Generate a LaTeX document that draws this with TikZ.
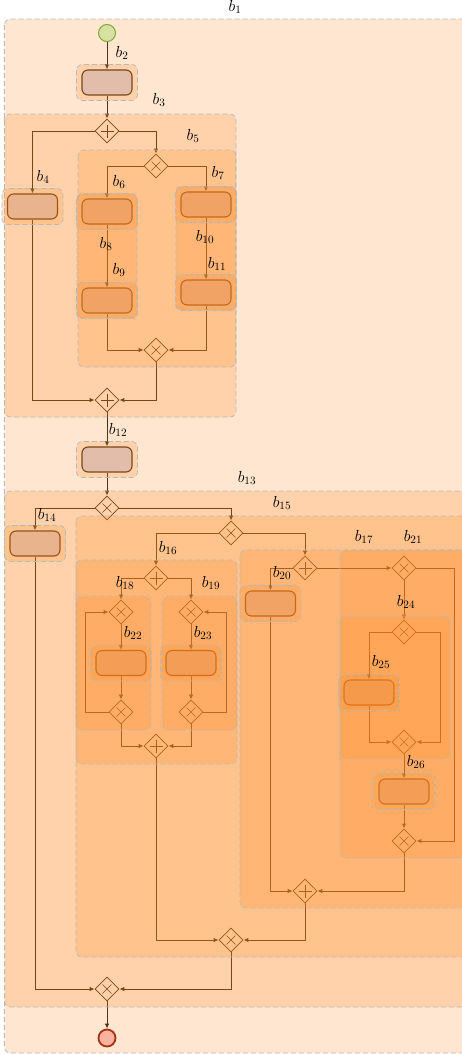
\RequirePackage{fix-cm}
\documentclass[tikz,border=0pt]{standalone}
\usepackage{tikz}
\usetikzlibrary{shapes.geometric, arrows.meta}
\definecolor{blockorange}{RGB}{255,140,40}
\definecolor{taskblue}{RGB}{208,224,255}
\definecolor{flowbrown}{RGB}{38,24,14}
\definecolor{startfill}{RGB}{205,250,195}
\definecolor{startline}{RGB}{95,175,60}
\definecolor{endfill}{RGB}{245,190,190}
\definecolor{endline}{RGB}{140,25,20}

\begin{document}
\begin{tikzpicture}[x=1pt, y=-1pt, font=\fontsize{16}{19}\selectfont,
  task/.style={draw=flowbrown, line width=1.1pt, rounded corners=6pt, fill=taskblue,
    minimum width=50pt, minimum height=25pt, inner sep=0pt},
  gate/.style={diamond, draw=flowbrown, line width=0.8pt, minimum width=24pt,
    minimum height=24pt, inner sep=0pt},
  andgw/.style={gate, path picture={
    \draw[flowbrown, line width=1pt]
      ([yshift=-6.5pt]path picture bounding box.center) -- ([yshift=6.5pt]path picture bounding box.center)
      ([xshift=-6.5pt]path picture bounding box.center) -- ([xshift=6.5pt]path picture bounding box.center);}},
  xorgw/.style={gate, path picture={
    \draw[flowbrown, line width=0.5pt]
      ([shift={(-4.5pt,-4.5pt)}]path picture bounding box.center) -- ([shift={(4.5pt,4.5pt)}]path picture bounding box.center)
      ([shift={(-4.5pt,4.5pt)}]path picture bounding box.center) -- ([shift={(4.5pt,-4.5pt)}]path picture bounding box.center);}},
  start/.style={circle, draw=startline, line width=1pt, fill=startfill, minimum size=17pt, inner sep=0pt},
  finish/.style={circle, draw=endline, line width=1.8pt, fill=endfill, minimum size=17pt, inner sep=0pt},
  flow/.style={draw=flowbrown, line width=0.95pt, -{Latex[length=5pt,width=4.5pt]}},
  block/.style={fill=blockorange, fill opacity=0.22, draw=black!28, line width=0.7pt,
    dash pattern=on 5pt off 3pt, rounded corners=6pt},
  blabel/.style={inner sep=0pt, text=black}]
  \useasboundingbox (0,0) rectangle (462,1055);
  \clip (0,0) rectangle (462,1055);

  % events, tasks and gateways
  \node[start] (start) at (107,33) {};
  \node[task] (t2) at (107,82.5) {};
  \node[andgw] (g3s) at (107,131) {};
  \node[task] (t4) at (32.5,206.5) {};
  \node[xorgw] (g5s) at (156,166) {};
  \node[task] (t8) at (107,211.5) {};
  \node[task] (t9) at (107,300.5) {};
  \node[task] (t10) at (206,204.5) {};
  \node[task] (t11) at (206,292.5) {};
  \node[xorgw] (g5j) at (156,350) {};
  \node[andgw] (g3j) at (107,400) {};
  \node[task] (t12) at (107,459.5) {};
  \node[xorgw] (g13s) at (107,508) {};
  \node[task] (t14) at (35,543.5) {};
  \node[xorgw] (g15s) at (231,533) {};
  \node[andgw] (g16s) at (156,578) {};
  \node[xorgw] (g18s) at (121,612) {};
  \node[task] (t22) at (121,663) {};
  \node[xorgw] (g18j) at (121,712) {};
  \node[xorgw] (g19s) at (191,612) {};
  \node[task] (t23) at (191,663) {};
  \node[xorgw] (g19j) at (191,712) {};
  \node[andgw] (g16j) at (156,746) {};
  \node[andgw] (g17s) at (305,568) {};
  \node[task] (t20) at (270.5,603.5) {};
  \node[xorgw] (g21s) at (404,568) {};
  \node[xorgw] (g24s) at (404,632) {};
  \node[task] (t25) at (369,692.5) {};
  \node[xorgw] (g24j) at (404,742) {};
  \node[task] (t26) at (404,791.5) {};
  \node[xorgw] (g21j) at (404,841) {};
  \node[andgw] (g17j) at (305,891) {};
  \node[xorgw] (g15j) at (231,940) {};
  \node[xorgw] (g13j) at (107,989) {};
  \node[finish] (end) at (107,1038) {};

  % sequence flows
  \draw[flow] (start) -- (t2);
  \draw[flow] (t2) -- (g3s);
  \draw[flow] (g3s) -| (t4);
  \draw[flow] (g3s) -| (g5s);
  \draw[flow] (g5s) -| (t8);
  \draw[flow] (g5s) -| (t10);
  \draw[flow] (t8) -- (t9);
  \draw[flow] (t10) -- (t11);
  \draw[flow] (t9) |- (g5j);
  \draw[flow] (t11) |- (g5j);
  \draw[flow] (t4) |- (g3j);
  \draw[flow] (g5j) |- (g3j);
  \draw[flow] (g3j) -- (t12);
  \draw[flow] (t12) -- (g13s);
  \draw[flow] (g13s) -| (t14);
  \draw[flow] (g13s) -| (g15s);
  \draw[flow] (g15s) -| (g16s);
  \draw[flow] (g15s) -| (g17s);
  \draw[flow] (g16s) -| (g18s);
  \draw[flow] (g16s) -| (g19s);
  \draw[flow] (g18s) -- (t22);
  \draw[flow] (t22) -- (g18j);
  \draw[flow] (g18j.west) -- ++(-23,0) |- (g18s.west);
  \draw[flow] (g19s) -- (t23);
  \draw[flow] (t23) -- (g19j);
  \draw[flow] (g19j.east) -- ++(23,0) |- (g19s.east);
  \draw[flow] (g18j) |- (g16j);
  \draw[flow] (g19j) |- (g16j);
  \draw[flow] (g16j) |- (g15j);
  \draw[flow] (g17s) -| (t20);
  \draw[flow] (g17s) -- (g21s);
  \draw[flow] (g21s) -- (g24s);
  \draw[flow] (g24s) -| (t25);
  \draw[flow] (t25) |- (g24j);
  \draw[flow] (g24s.east) -- ++(24,0) |- (g24j.east);
  \draw[flow] (g24j) -- (t26);
  \draw[flow] (t26) -- (g21j);
  \draw[flow] (g21s.east) -- ++(38,0) |- (g21j.east);
  \draw[flow] (t20) |- (g17j);
  \draw[flow] (g21j) |- (g17j);
  \draw[flow] (g17j) |- (g15j);
  \draw[flow] (g15j) |- (g13j);
  \draw[flow] (t14) |- (g13j);
  \draw[flow] (g13j) -- (end);

  % nested blocks, laid over the flow
  \draw[block] (4.5,19) rectangle (475,1053);
  \draw[block] (4.5,114) rectangle (236,417);
  \draw[block] (78,150) rectangle (236,367);
  \draw[block] (77,194) rectangle (137,318);
  \draw[block] (176,187) rectangle (236,310);
  \draw[block] (4.5,491) rectangle (475,1007);
  \draw[block] (76,516) rectangle (475,957);
  \draw[block] (76,560) rectangle (237,764);
  \draw[block] (76,596) rectangle (151,730);
  \draw[block] (162,596) rectangle (237,730);
  \draw[block] (240,550) rectangle (475,908);
  \draw[block] (340,550) rectangle (475,858);
  \draw[block] (340,616) rectangle (450,759);
  \foreach \t in {t2,t4,t8,t9,t10,t11,t12,t14,t20,t22,t23,t25,t26}
    \draw[block] ([shift={(-5pt,5pt)}]\t.north west) rectangle ([shift={(5pt,-5pt)}]\t.south east);

  % block labels
  \node[blabel] at (235,7) {$b_{1}$};
  \node[blabel] at (122,53) {$b_{2}$};
  \node[blabel] at (159,100) {$b_{3}$};
  \node[blabel] at (43,177) {$b_{4}$};
  \node[blabel] at (193,136) {$b_{5}$};
  \node[blabel] at (119,182) {$b_{6}$};
  \node[blabel] at (218,173) {$b_{7}$};
  \node[blabel] at (106,244) {$b_{8}$};
  \node[blabel] at (119,270) {$b_{9}$};
  \node[blabel] at (205,237) {$b_{10}$};
  \node[blabel] at (217,264) {$b_{11}$};
  \node[blabel] at (118,430) {$b_{12}$};
  \node[blabel] at (247,478) {$b_{13}$};
  \node[blabel] at (47,515) {$b_{14}$};
  \node[blabel] at (282,503) {$b_{15}$};
  \node[blabel] at (168,548) {$b_{16}$};
  \node[blabel] at (364,537) {$b_{17}$};
  \node[blabel] at (125,583) {$b_{18}$};
  \node[blabel] at (211,583) {$b_{19}$};
  \node[blabel] at (282,573) {$b_{20}$};
  \node[blabel] at (413,537) {$b_{21}$};
  \node[blabel] at (133,633) {$b_{22}$};
  \node[blabel] at (203,633) {$b_{23}$};
  \node[blabel] at (406,602) {$b_{24}$};
  \node[blabel] at (381,662) {$b_{25}$};
  \node[blabel] at (416,762) {$b_{26}$};
\end{tikzpicture}
\end{document}
